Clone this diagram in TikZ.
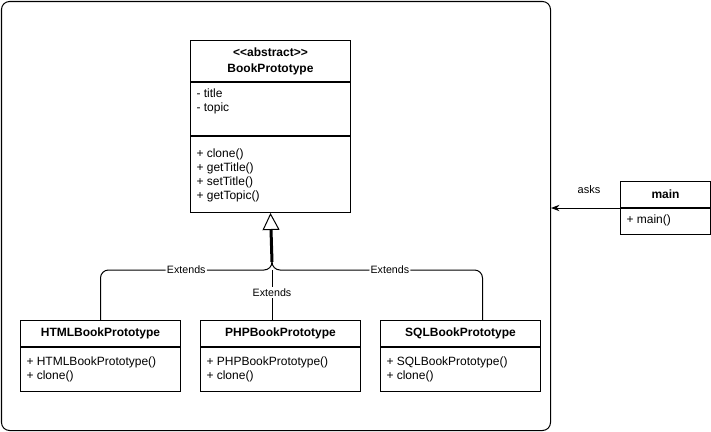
\documentclass[tikz,border=0pt]{standalone}
\usepackage{fontspec}
\setmainfont{Liberation Sans}
\usetikzlibrary{arrows.meta,positioning}

\tikzset{
  box/.style = {draw, minimum width=120pt, inner sep=0pt, anchor=north west},
  head/.style = {box, font=\fontsize{9}{12}\selectfont\bfseries, align=center},
  txt/.style = {inner sep=0pt, align=left, anchor=north west, font=\fontsize{9}{10.5}\selectfont},
  lbl/.style = {fill=white, inner sep=1pt, font=\fontsize{8}{10}\selectfont}
}
\newcommand{\stereo}[1]{<\kern0pt<#1>\kern0pt>}

\begin{document}
\begin{tikzpicture}[x=0.75pt, y=-0.75pt, line width=0.75pt, > = Stealth]
    \useasboundingbox (0,0) rectangle (711,432);
    \node[draw, rounded corners=6pt, minimum width=411.75pt, minimum height=321.75pt, inner sep=0pt, anchor=north west] (frame) at (1,1) {};
    % abstract class
    \node[head, minimum height=30.75pt] (bph) at (190,40) {\stereo{abstract}\\BookPrototype};
    \node[box, minimum height=39.75pt] (bpa) at (bph.south west) {};
    \node[box, minimum height=57pt] (bpm) at (bpa.south west) {};
    \node[txt, below right=4.5pt and 4.5pt of bpa.north west] {- title\\- topic};
    \node[txt, below right=9pt and 4.5pt of bpm.north west] {+ clone()\\+ getTitle()\\+ setTitle()\\+ getTopic()};
    % subclasses
    \foreach \nm/\x in {html/20, php/200, sql/380}{
      \node[head, minimum height=19.5pt] (\nm h) at (\x,320) {};
      \node[box, minimum height=33pt] (\nm b) at (\nm h.south west) {};
    }
    \node at (htmlh) {\fontsize{9}{10}\selectfont\bfseries HTMLBookPrototype};
    \node at (phph) {\fontsize{9}{10}\selectfont\bfseries PHPBookPrototype};
    \node at (sqlh) {\fontsize{9}{10}\selectfont\bfseries SQLBookPrototype};
    \node[txt, below right=6.75pt and 4.5pt of htmlb.north west] {+ HTMLBookPrototype()\\+ clone()};
    \node[txt, below right=6.75pt and 4.5pt of phpb.north west] {+ PHPBookPrototype()\\+ clone()};
    \node[txt, below right=6.75pt and 4.5pt of sqlb.north west] {+ SQLBookPrototype()\\+ clone()};
    % main
    \node[head, minimum width=67.5pt, minimum height=19.5pt] (mainh) at (620,181) {main};
    \node[box, minimum width=67.5pt, minimum height=19.5pt] (mainb) at (mainh.south west) {};
    \node[txt, below right=4.5pt and 4.5pt of mainb.north west] {+ main()};
    % inheritance
    \coordinate (fork) at (272,270);
    \coordinate (junc) at (272,262);
    \draw [rounded corners=6pt] (htmlh.north) |- node[lbl, pos=0.75]{Extends} (fork) -- (junc);
    \draw [rounded corners=6pt] ([xshift=16.5pt]sqlh.north) |- node[lbl, pos=0.72]{Extends} (fork) -- (junc);
    \draw (fork |- phph.north) -- node[lbl, pos=0.55]{Extends} (fork);
    \draw [line width=2.25pt, -{Triangle[open, length=12.75pt, width=12.75pt, line width=0.75pt 0]}] (junc) -- (bpm.south);
    % association
    \draw [->] (mainh.south west) -- node[above=7pt, pos=0.45, font=\fontsize{8.25}{10}\selectfont]{asks} (frame.east |- mainh.south west);
  \end{tikzpicture}
\end{document}
